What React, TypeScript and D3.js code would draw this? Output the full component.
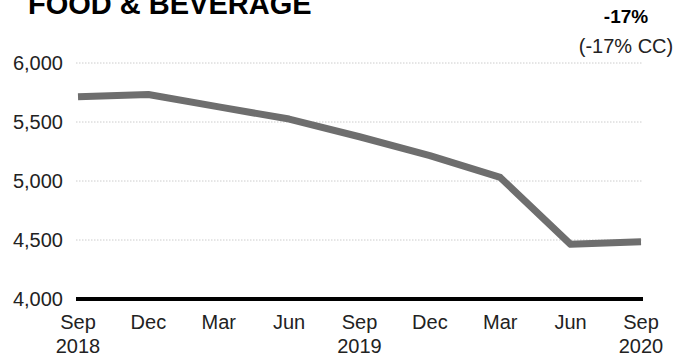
import React from "react";
import * as d3 from "d3";

const categories = ["Sep 2018", "Dec 2018", "Mar 2019", "Jun 2019", "Sep 2019", "Dec 2019", "Mar 2020", "Jun 2020", "Sep 2020"];
const monthLabels = ["Sep", "Dec", "Mar", "Jun", "Sep", "Dec", "Mar", "Jun", "Sep"];
const yearLabels = ["2018", "", "", "", "2019", "", "", "", "2020"];
const values = [5713, 5733, 5628, 5525, 5375, 5215, 5030, 4463, 4485];
const yTicks = [4000, 4500, 5000, 5500, 6000];

export default function App() {
  const W = 681, H = 356;
  const x = d3.scalePoint<string>().domain(categories).range([78, 641]);
  const y = d3.scaleLinear().domain([4000, 6000]).range([299, 63]);
  const line = d3.line<number>().x((_, i) => x(categories[i])!).y((d) => y(d));
  const font = "'Liberation Sans', Arial, sans-serif";
  return (
    <svg width={W} height={H} style={{ position: "absolute", left: 0, top: 0 }} fontFamily={font}>
      <text x={28} y={14} fontSize={29} fontWeight="bold" fill="#000">FOOD &amp; BEVERAGE</text>
      <text x={626} y={23} fontSize={19} fontWeight="bold" textAnchor="middle" fill="#000">-17%</text>
      <text x={626} y={53} fontSize={20} textAnchor="middle" fill="#222">(-17% CC)</text>
      {yTicks.map((t) => (
        <g key={t}>
          {t !== 4000 && (
            <line x1={76} x2={643} y1={y(t)} y2={y(t)} stroke="#ccc" strokeWidth={1} strokeDasharray="1.5,1.5" />
          )}
          <text x={63} y={y(t)} dy="0.35em" fontSize={20} textAnchor="end" fill="#222">
            {d3.format(",")(t)}
          </text>
        </g>
      ))}
      <line x1={76} x2={643} y1={y(4000)} y2={y(4000)} stroke="#000" strokeWidth={4} />
      <path d={line(values)!} fill="none" stroke="#6e6e6e" strokeWidth={7} strokeLinejoin="round" />
      {categories.map((c, i) => (
        <g key={c}>
          <text x={x(c)!} y={329} fontSize={20} textAnchor="middle" fill="#222">{monthLabels[i]}</text>
          {yearLabels[i] && (
            <text x={x(c)!} y={353} fontSize={20} textAnchor="middle" fill="#222">{yearLabels[i]}</text>
          )}
        </g>
      ))}
    </svg>
  );
}
